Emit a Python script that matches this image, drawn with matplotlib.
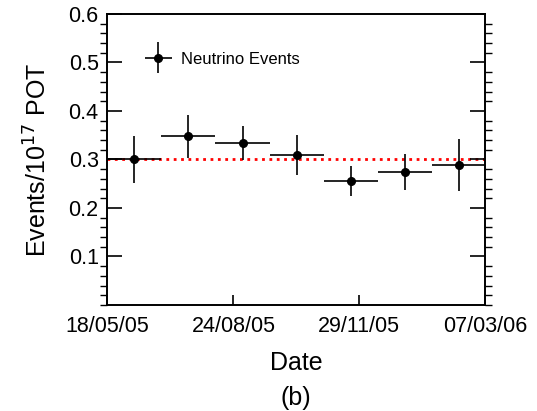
import numpy as np
import pandas as pd
import matplotlib
matplotlib.use("Agg")
import matplotlib.pyplot as plt
import matplotlib.dates as mdates
from matplotlib.container import ErrorbarContainer
from matplotlib.legend_handler import HandlerErrorbar
from matplotlib.ticker import MultipleLocator

plt.rcParams['font.family'] = ['Liberation Sans', 'DejaVu Sans']

# bin edges (7 time bins) and measured rates
bin_edges = pd.to_datetime(["2005-05-18", "2005-06-29", "2005-08-10", "2005-09-21",
                            "2005-11-02", "2005-12-14", "2006-01-25", "2006-03-07"])
rate = [0.300, 0.348, 0.334, 0.309, 0.255, 0.275, 0.289]
rate_err = [0.048, 0.044, 0.035, 0.042, 0.031, 0.037, 0.053]
mean_rate = 0.30

tick_dates = pd.to_datetime(["2005-05-18", "2005-08-24", "2005-11-29", "2006-03-07"])
tick_labels = ["18/05/05", "24/08/05", "29/11/05", "07/03/06"]

edges = mdates.date2num(bin_edges)
centers = (edges[:-1] + edges[1:]) / 2
half_width = (edges[1:] - edges[:-1]) / 2

fig = plt.figure(figsize=(5.37, 4.11), dpi=100)
ax = fig.add_axes([0.1993, 0.258, 0.704, 0.708])

ax.axhline(mean_rate, color='red', linestyle=':', linewidth=2.0, zorder=1)
eb = ax.errorbar(centers, rate, xerr=half_width, yerr=rate_err, fmt='o',
                 color='black', markersize=5.5, elinewidth=1.2, capsize=0,
                 label="Neutrino Events", zorder=3)

ax.set_xlim(edges[0], edges[-1])
ax.set_ylim(0, 0.6)
ax.set_xticks(mdates.date2num(tick_dates))
ax.set_xticklabels(tick_labels)
ax.set_yticks([0.1, 0.2, 0.3, 0.4, 0.5, 0.6])
ax.set_yticklabels(["0.1", "0.2", "0.3", "0.4", "0.5", "0.6"])
ax.yaxis.set_minor_locator(MultipleLocator(0.02))

ax.tick_params(axis='both', labelsize=15.5, direction='in', width=1.2)
ax.tick_params(axis='x', length=7, top=False, pad=8)
ax.tick_params(axis='y', which='major', length=11, right=True, pad=6)
ax.tick_params(axis='y', which='minor', length=5, right=True, width=1.0)
for s in ax.spines.values():
    s.set_linewidth(1.4)

ax.set_xlabel("Date", fontsize=18, labelpad=10)
ax.set_ylabel(r"Events/10$^{17}$ POT", fontsize=18, labelpad=12)

ax.legend(handles=[eb], loc='center left', bbox_to_anchor=(0.059, 0.845),
          frameon=False, fontsize=12, handlelength=1.7, handletextpad=0.5,
          handler_map={ErrorbarContainer: HandlerErrorbar(xerr_size=0.81, yerr_size=0.93)})

fig.text(0.5 * (0.1993 + 0.903), 1 - 398 / 411, "(b)", fontsize=18,
         ha='center', va='center')

fig.savefig("out.png", dpi=100)
